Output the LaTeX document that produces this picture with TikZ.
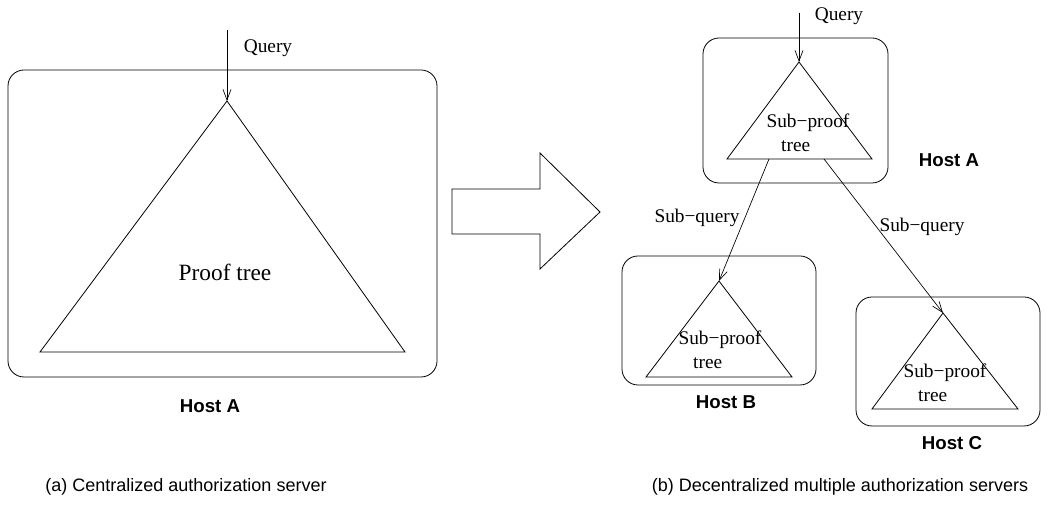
\documentclass[tikz,border=0pt]{standalone}
\usepackage{fontspec}
\setmainfont{Liberation Serif}
\setsansfont{Liberation Sans}
\usetikzlibrary{arrows.meta}

\tikzset{
	host/.style={draw, rounded corners=12pt, line width=0.6pt},
	tree/.style={draw, line width=0.6pt},
	query/.style={-{Straight Barb[length=8pt,width=6pt]}, line width=0.5pt},
	lbl/.style={font=\fontsize{14.5}{18}\selectfont},
	hostlbl/.style={font=\sffamily\bfseries\fontsize{14}{16}\selectfont},
	caption/.style={font=\sffamily\fontsize{13.5}{16}\selectfont}
}

\begin{document}
\begin{tikzpicture}[x=0.75pt, y=-0.75pt, align=center]
		\useasboundingbox (0,0) rectangle (1061,523);
		
		% (a) centralized
		\draw[host] (8,70) rectangle (437,377);
		\draw[tree] (227,101) coordinate (topA) -- (405,352) -- (40,352) -- cycle;
		\coordinate (inA) at (227,30);
		\draw[query] (inA) -- (topA);
		\node[lbl] (qA) at (268,48) {Query};
		\node[font=\fontsize{17.5}{20}\selectfont] (proof) at (225,272) {Proof tree};
		\node[hostlbl] (hA) at (210,406) {Host A};
		
		% big arrow
		\draw[line width=0.6pt] (452,189) -- (540,189) -- (540,153) -- (600,212) -- (540,269) -- (540,234) -- (452,234) -- cycle;
		
		% (b) decentralized
		\draw[host] (703,38) rectangle (888,183);
		\draw[tree] (799,62) coordinate (topRA) -- (872,159) -- (727,159) -- cycle;
		\coordinate (inRA) at (799,13);
		\draw[query] (inRA) -- (topRA);
		\node[lbl] (qRA) at (839,16) {Query};
		\node[lbl, align=left] (spA) at (808,133) {Sub−proof\\\hspace*{11pt}tree};
		\node[hostlbl] (hRA) at (949,160) {Host A};
		
		\draw[host] (622,256) rectangle (816,385);
		\draw[tree] (719,281) coordinate (topB) -- (792,377) -- (646,377) -- cycle;
		\node[lbl, align=left] (spB) at (720,350) {Sub−proof\\\hspace*{11pt}tree};
		\node[hostlbl] (hB) at (726,402) {Host B};
		
		\draw[host] (856,297) rectangle (1040,426);
		\draw[tree] (943,313) coordinate (topC) -- (1018,409) -- (872,409) -- cycle;
		\node[lbl, align=left] (spC) at (945,383) {Sub−proof\\\hspace*{11pt}tree};
		\node[hostlbl] (hC) at (952,443) {Host C};
		
		\coordinate (outB) at (769,159);
		\coordinate (outC) at (824,159);
		\draw[query] (outB) -- (topB);
		\draw[query] (outC) -- (topC);
		\node[lbl] (sqB) at (697,218) {Sub−query};
		\node[lbl] (sqC) at (922,227) {Sub−query};
		
		% captions
		\node[caption] (capA) at (186,487) {(a) Centralized authorization server};
		\node[caption] (capB) at (840,487) {(b) Decentralized multiple authorization servers};
	\end{tikzpicture}
\end{document}
